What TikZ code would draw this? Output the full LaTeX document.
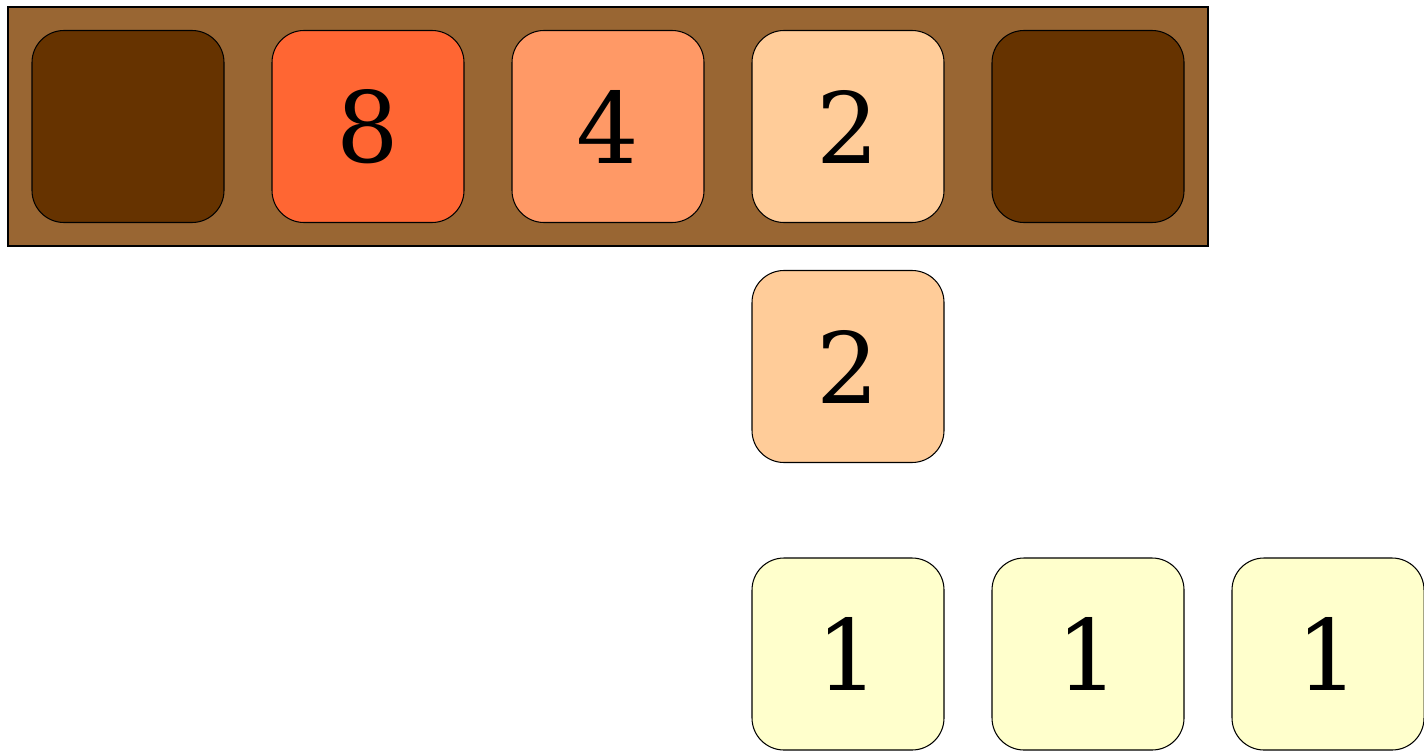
\documentclass[tikz,border=0pt]{standalone}
\usepackage{fontspec}
\setmainfont{DejaVu Serif}
\definecolor{frame}{HTML}{996633}
\definecolor{dark}{HTML}{663300}
\definecolor{ceight}{HTML}{FF6633}
\definecolor{cfour}{HTML}{FF9966}
\definecolor{ctwo}{HTML}{FFCC99}
\definecolor{cone}{HTML}{FFFFCC}
\tikzset{
  tile/.style={draw=black, line width=0.3pt, rounded corners=0.32cm, minimum width=1.92cm, minimum height=1.92cm, inner sep=0pt, font=\fontsize{28}{32}\selectfont},
  tray/.style={draw=black, fill=frame, line width=0.3pt}
}
\begin{document}
\begin{tikzpicture}
\useasboundingbox (0,0) rectangle (14.24,7.5);
\draw[tray] (0.08,7.43) rectangle (12.08,5.04);
\node[tile, fill=dark] (t1) at (1.28,6.235) {};
\node[tile, fill=ceight] (t2) at (3.68,6.235) {8};
\node[tile, fill=cfour] (t3) at (6.08,6.235) {4};
\node[tile, fill=ctwo] (t4) at (8.48,6.235) {2};
\node[tile, fill=dark] (t5) at (10.88,6.235) {};
\node[tile, fill=ctwo] (m1) at (8.48,3.835) {2};
\node[tile, fill=cone] (b1) at (8.48,0.96) {1};
\node[tile, fill=cone] (b2) at (10.88,0.96) {1};
\node[tile, fill=cone] (b3) at (13.28,0.96) {1};
\end{tikzpicture}
\end{document}
